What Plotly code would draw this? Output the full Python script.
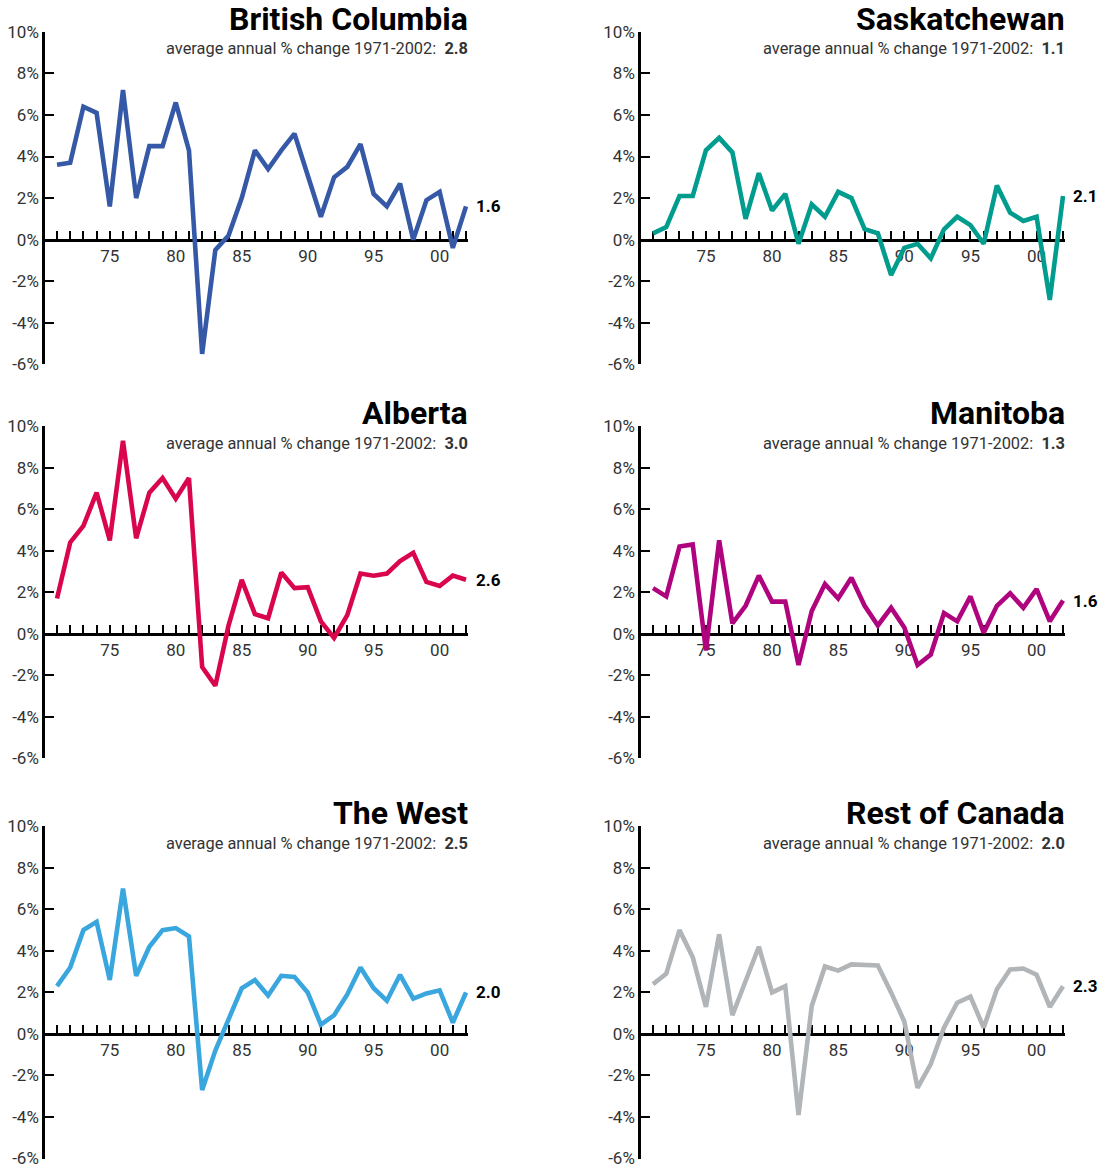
import plotly.graph_objects as go

years = list(range(1971, 2003))

bc = [3.6, 3.7, 6.4, 6.1, 1.6, 7.2, 2.0, 4.5, 4.5, 6.6, 4.3, -5.5, -0.5, 0.2, 2.0, 4.3, 3.4, 4.3, 5.1, 3.1, 1.1, 3.0, 3.5, 4.6, 2.2, 1.6, 2.7, 0.0, 1.9, 2.3, -0.4, 1.6]
sask = [0.3, 0.6, 2.1, 2.1, 4.3, 4.9, 4.2, 1.0, 3.2, 1.4, 2.2, -0.2, 1.7, 1.1, 2.3, 2.0, 0.5, 0.3, -1.7, -0.4, -0.2, -0.9, 0.5, 1.1, 0.7, -0.2, 2.6, 1.3, 0.9, 1.1, -2.9, 2.1]
alberta = [1.7, 4.4, 5.2, 6.8, 4.5, 9.3, 4.6, 6.8, 7.5, 6.5, 7.5, -1.6, -2.5, 0.4, 2.6, 0.95, 0.75, 2.95, 2.2, 2.25, 0.6, -0.2, 0.9, 2.9, 2.8, 2.9, 3.5, 3.9, 2.5, 2.3, 2.8, 2.6]
manitoba = [2.2, 1.8, 4.2, 4.3, -0.8, 4.5, 0.5, 1.35, 2.8, 1.55, 1.55, -1.5, 1.1, 2.4, 1.7, 2.7, 1.35, 0.4, 1.25, 0.3, -1.5, -1.0, 1.0, 0.6, 1.8, 0.05, 1.35, 1.95, 1.25, 2.15, 0.6, 1.6]
west = [2.3, 3.2, 5.0, 5.4, 2.6, 7.0, 2.8, 4.2, 5.0, 5.1, 4.7, -2.7, -0.8, 0.65, 2.2, 2.6, 1.85, 2.8, 2.75, 2.0, 0.45, 0.9, 1.9, 3.2, 2.2, 1.6, 2.85, 1.7, 1.95, 2.1, 0.55, 2.0]
roc = [2.4, 2.9, 5.0, 3.7, 1.3, 4.8, 0.9, 2.6, 4.2, 2.0, 2.3, -3.9, 1.35, 3.25, 3.05, 3.35, 3.3, 3.3, 2.0, 0.6, -2.6, -1.45, 0.3, 1.5, 1.8, 0.3, 2.15, 3.1, 3.15, 2.85, 1.3, 2.3]

names = ["British Columbia", "Saskatchewan", "Alberta", "Manitoba", "The West", "Rest of Canada"]
averages = ["2.8", "1.1", "3.0", "1.3", "2.5", "2.0"]
series = [bc, sask, alberta, manitoba, west, roc]
colors = ["#3559a6", "#009c8e", "#d9064f", "#b0047f", "#3aa6de", "#b1b5b8"]

y_ticks = [-6, -4, -2, 0, 2, 4, 6, 8, 10]
y_ticktext = [f"{v}%" for v in y_ticks]
x_ticktext = [f"{y % 100:02d}" if y % 5 == 0 else "" for y in years]

W, H = 1102, 1170
col_px = [(45, 468), (641, 1065)]
row_px = [(22.3, 360.4), (423.4, 761.4), (830.5, 1168.5)]
title_px = [9.5, 410, 817]
sub_px = [39, 441, 848]

FONT = "Roboto, Liberation Sans, sans-serif"
fig = go.Figure()
layout = dict(width=W, height=H, autosize=False, margin=dict(l=0, r=0, t=0, b=0),
              paper_bgcolor="white", plot_bgcolor="white", showlegend=False,
              font=dict(family=FONT, color="#222"))
annotations = []

for i, (name, avg, vals, col) in enumerate(zip(names, averages, series, colors)):
    r, c = divmod(i, 2)
    n = i + 1
    xs = "" if n == 1 else str(n)
    x0, x1 = col_px[c]
    top, bot = row_px[r]
    xd = [x0 / W, x1 / W]
    yd = [1 - bot / H, 1 - top / H]
    zero_pos = yd[0] + (0 - (-6)) / 16 * (yd[1] - yd[0])
    layout["xaxis" + xs] = dict(
        domain=xd, range=[1970.09, 2002.15], anchor="free", position=zero_pos,
        showline=True, linecolor="black", linewidth=2.5, showgrid=False, zeroline=False,
        ticks="inside", ticklen=8, tickwidth=2, tickcolor="black",
        tickvals=years, ticktext=x_ticktext, tickfont=dict(size=17, color="#333"),
        layer="below traces", fixedrange=True)
    layout["yaxis" + xs] = dict(
        domain=yd, range=[-6, 10], anchor="x" + xs,
        showline=True, linecolor="black", linewidth=2.5, showgrid=False, zeroline=False,
        ticks="inside", ticklen=9, tickwidth=2, tickcolor="black",
        tickvals=y_ticks, ticktext=y_ticktext, tickfont=dict(size=17, color="#333"),
        layer="below traces", fixedrange=True)
    fig.add_trace(go.Scatter(x=years, y=vals, mode="lines", xaxis="x" + xs, yaxis="y" + xs,
                             line=dict(color=col, width=4.6), cliponaxis=False, hoverinfo="skip"))
    annotations.append(dict(text=f"<b>{name}</b>", xref="paper", yref="paper",
                            x=(x1 + 2) / W, y=1 - title_px[r] / H, xanchor="right", yanchor="middle",
                            showarrow=False, font=dict(size=32, color="black", family=FONT)))
    annotations.append(dict(text=f"average annual % change 1971-2002:&nbsp; <b>{avg}</b>",
                            xref="paper", yref="paper", x=(x1 + 2) / W, y=1 - sub_px[r] / H,
                            xanchor="right", yanchor="middle", showarrow=False,
                            font=dict(size=16.4, color="#333", family=FONT)))
    annotations.append(dict(text=f"<b>{vals[-1]:.1f}</b>", xref="x" + xs, yref="y" + xs,
                            x=years[-1], y=vals[-1], xanchor="left", yanchor="middle",
                            xshift=8, showarrow=False, font=dict(size=17, color="black", family=FONT)))

layout["annotations"] = annotations
fig.update_layout(**layout)
post = ("document.body.style.margin='0';document.body.style.overflow='hidden';"
        "var d=document.querySelector('.plotly-graph-div');"
        "d.style.position='fixed';d.style.left='0px';d.style.top='0px';")
fig.write_html("out.html", config={"displayModeBar": False}, post_script=post)
